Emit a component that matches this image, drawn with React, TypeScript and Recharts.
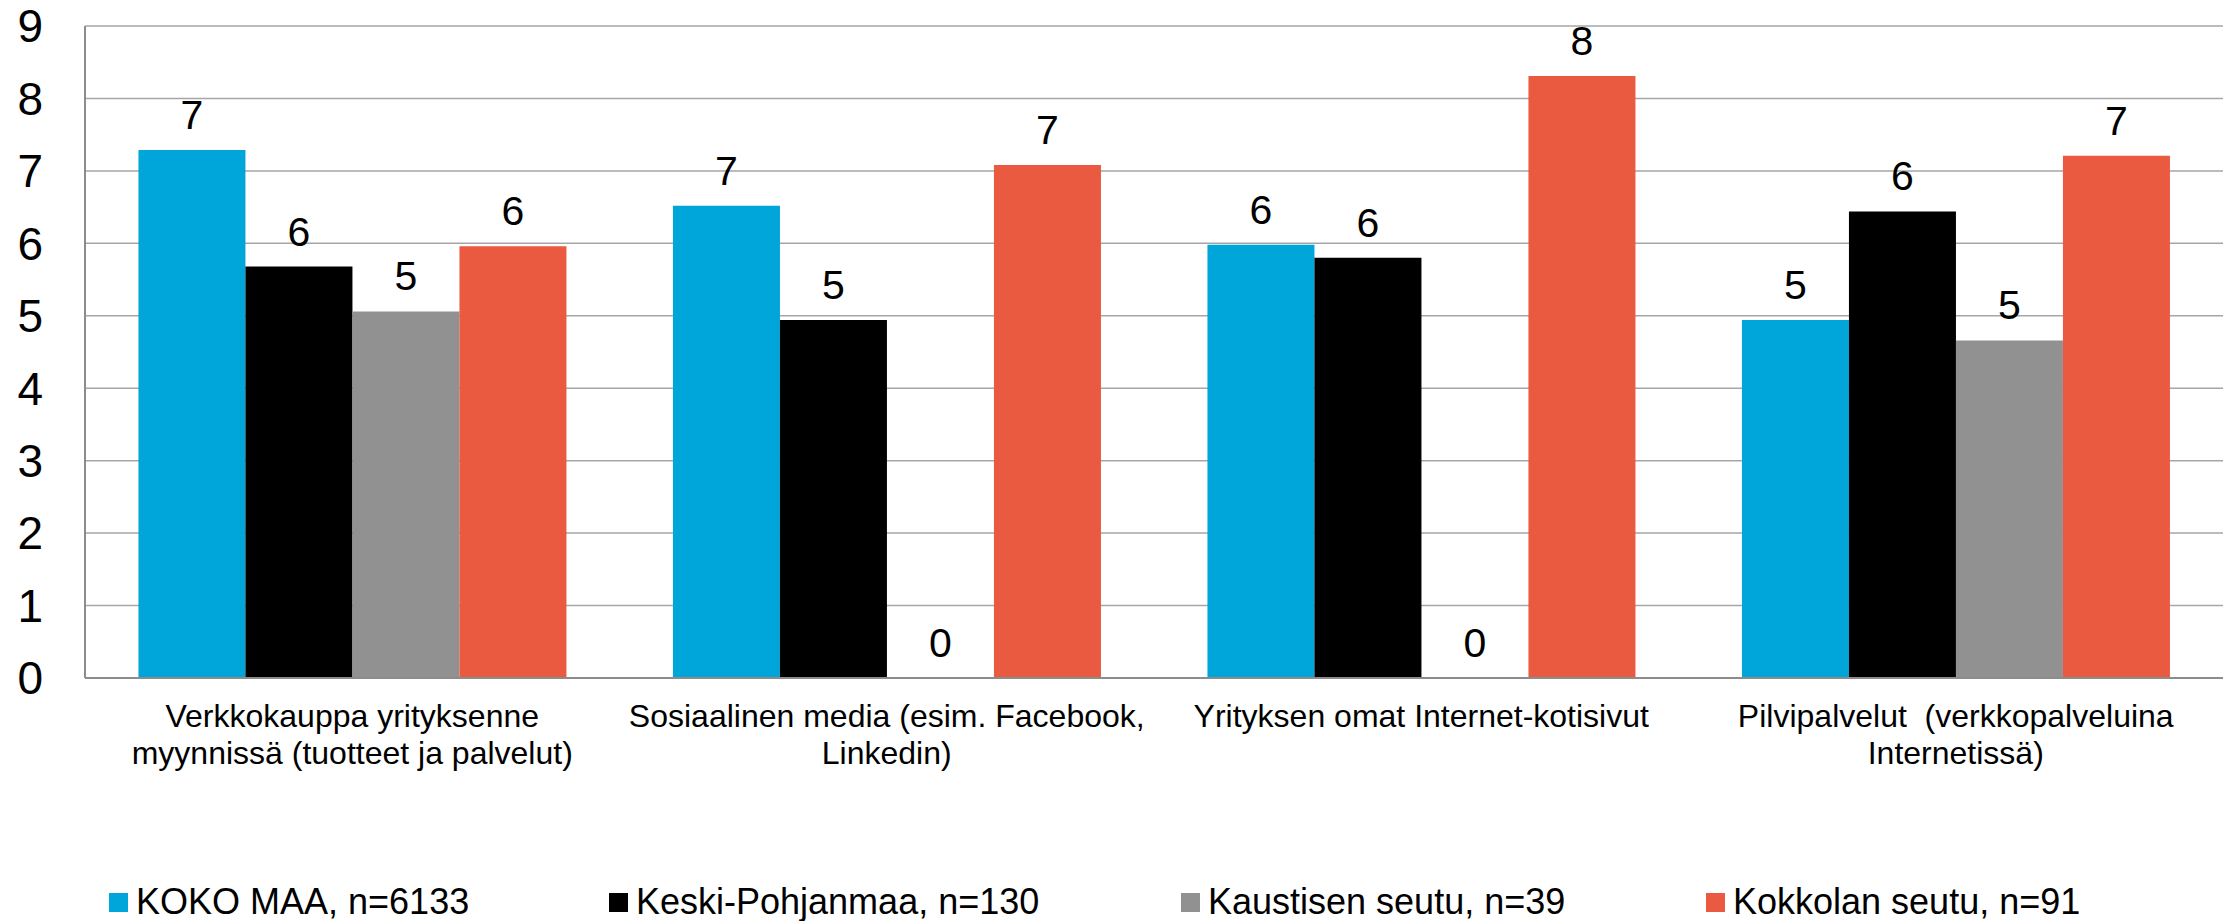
import { Bar, BarChart, CartesianGrid, LabelList, XAxis, YAxis } from "recharts";

// Excel-ish export, so kill the default body margin to line up with the frame.
if (typeof document !== "undefined") document.body.style.margin = "0";

const FONT = '"Liberation Sans", Arial, sans-serif';

const CATEGORIES = [
  "Verkkokauppa yrityksenne\nmyynnissä (tuotteet ja palvelut)",
  "Sosiaalinen media (esim. Facebook,\nLinkedin)",
  "Yrityksen omat Internet-kotisivut",
  "Pilvipalvelut  (verkkopalveluina\nInternetissä)",
];

const KOKO_MAA = [7.29, 6.52, 5.98, 4.94];
const KESKI_POHJANMAA = [5.68, 4.94, 5.8, 6.44];
const KAUSTINEN = [5.06, 0, 0, 4.66];
const KOKKOLA = [5.96, 7.08, 8.31, 7.21];

const Y_TICKS = [0, 1, 2, 3, 4, 5, 6, 7, 8, 9];

const SERIES = [
  { key: "koko", name: "KOKO MAA, n=6133", color: "#00A5DA", values: KOKO_MAA },
  { key: "keski", name: "Keski-Pohjanmaa, n=130", color: "#000000", values: KESKI_POHJANMAA },
  { key: "kaustinen", name: "Kaustisen seutu, n=39", color: "#919191", values: KAUSTINEN },
  { key: "kokkola", name: "Kokkolan seutu, n=91", color: "#E95A40", values: KOKKOLA },
];

const LEGEND_SLOTS = [109, 609, 1181, 1706];

const data = CATEGORIES.map((name, i) => {
  const row: Record<string, string | number> = { name };
  for (const s of SERIES) row[s.key] = s.values[i];
  return row;
});

function CategoryTick({ x, y, payload }: any) {
  const lines = String(payload.value).split("\n");
  return (
    <text
      x={x}
      y={y}
      textAnchor="middle"
      fontSize={32}
      fill="#000"
      fontFamily={FONT}
      style={{ whiteSpace: "pre" }}
    >
      {lines.map((l, i) => (
        <tspan key={i} x={x} dy={i === 0 ? 49 : 37}>
          {l}
        </tspan>
      ))}
    </text>
  );
}

// Label sits on the value, not on the (min-sized) rect top, so zeros land on the baseline.
function ValueLabel({ x, y, width, height, value }: any) {
  if (value === null || value === undefined) return null;
  const top = Number(value) === 0 ? Number(y) + Number(height) : Number(y);
  return (
    <text
      x={Number(x) + Number(width) / 2}
      y={top - 21}
      textAnchor="middle"
      fontSize={41}
      fill="#000"
      fontFamily={FONT}
    >
      {String(Math.round(Number(value)))}
    </text>
  );
}

export default function App() {
  return (
    <div style={{ position: "relative", width: 2233, height: 921, fontFamily: FONT, background: "#fff" }}>
      <BarChart
        width={2233}
        height={921}
        data={data}
        margin={{ top: 26, right: 10, bottom: 0, left: 0 }}
        barGap={0}
        barCategoryGap="10%"
      >
        <CartesianGrid vertical={false} stroke="#A6A6A6" strokeWidth={1.5} />
        <XAxis
          dataKey="name"
          height={243}
          interval={0}
          tickLine={false}
          tickSize={0}
          tickMargin={0}
          axisLine={{ stroke: "#8C8C8C", strokeWidth: 2 }}
          tick={<CategoryTick />}
        />
        <YAxis
          width={85}
          domain={[0, 9]}
          ticks={Y_TICKS}
          interval={0}
          tickLine={false}
          tickSize={0}
          tickMargin={42}
          axisLine={{ stroke: "#8C8C8C", strokeWidth: 2 }}
          tick={{ fill: "#000", fontSize: 46, fontFamily: FONT }}
        />
        {/* right-hand frame edge */}
        <YAxis
          yAxisId="frame"
          orientation="right"
          width={0}
          domain={[0, 9]}
          tick={false}
          tickLine={false}
          axisLine={{ stroke: "#A6A6A6", strokeWidth: 1.5 }}
        />
        {SERIES.map((s) => (
          <Bar
            key={s.key}
            dataKey={s.key}
            name={s.name}
            fill={s.color}
            minPointSize={1}
            isAnimationActive={false}
          >
            <LabelList dataKey={s.key} content={<ValueLabel />} />
          </Bar>
        ))}
      </BarChart>
      {SERIES.map((s, i) => (
        <div
          key={s.key}
          style={{
            position: "absolute",
            top: 882,
            left: LEGEND_SLOTS[i],
            display: "flex",
            alignItems: "center",
            fontSize: 36,
            lineHeight: "40px",
            color: "#000",
            whiteSpace: "nowrap",
          }}
        >
          <span style={{ display: "inline-block", width: 19, height: 19, background: s.color, marginRight: 8 }} />
          <span>{s.name}</span>
        </div>
      ))}
    </div>
  );
}
